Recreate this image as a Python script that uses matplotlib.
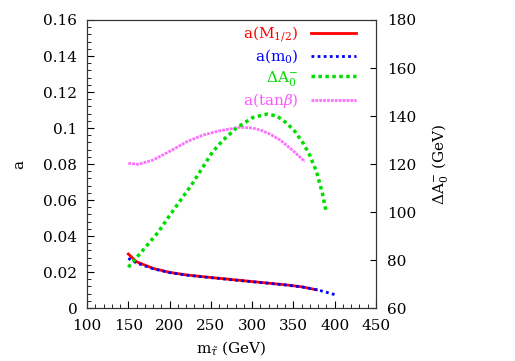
import matplotlib
matplotlib.use("Agg")
import matplotlib.pyplot as plt
from matplotlib.ticker import MultipleLocator, FuncFormatter

plt.rcParams['font.family'] = ['DejaVu Serif']
plt.rcParams['mathtext.fontset'] = 'dejavuserif'

# a(M_1/2)
m_red = [150, 160, 180, 200, 220, 240, 260, 280, 300, 320, 340, 360, 378]
a_red = [0.0300, 0.0257, 0.0220, 0.0198, 0.0184, 0.0174, 0.0165, 0.0156, 0.0147, 0.0138, 0.0129, 0.0118, 0.0101]
# a(m0)
m_blue = [150, 160, 180, 200, 220, 240, 260, 280, 300, 320, 340, 360, 380, 402]
a_blue = [0.0276, 0.0250, 0.0218, 0.0197, 0.0183, 0.0173, 0.0164, 0.0155, 0.0146, 0.0137, 0.0128, 0.0117, 0.0100, 0.0072]
# Delta A0 (right axis, GeV)
m_green = [150, 165, 186, 200, 227, 252, 265, 281, 301, 318, 330, 342, 352, 362, 370, 378, 385, 390]
dA_green = [77.0, 83.0, 91.5, 98.5, 111.5, 125.0, 130.0, 135.0, 139.4, 140.8, 140.0, 137.0, 133.5, 128.6, 123.5, 116.8, 108.0, 99.5]
# a(tan beta)
m_mag = [150, 162, 180, 200, 221, 240, 261, 285, 300, 310, 322, 334, 348, 364]
a_mag = [0.0804, 0.0798, 0.0822, 0.0870, 0.0924, 0.0960, 0.0985, 0.1004, 0.1000, 0.0989, 0.0965, 0.0933, 0.0880, 0.0813]

fig = plt.figure(figsize=(5.15, 3.61), dpi=100)
ax = fig.add_axes([0.169, 0.1468, 0.561, 0.7978])
ax2 = ax.twinx()

l1, = ax.plot(m_red, a_red, color='#ff0000', lw=2.0, label=r'a(M$_{1/2}$)')
l2, = ax.plot(m_blue, a_blue, color='#0000ff', lw=2.0, linestyle=(0, (1, 1.2)), label=r'a(m$_0$)')
l4, = ax.plot(m_mag, a_mag, color='#ff55ff', lw=2.0, linestyle=(0, (1, 0.4)), alpha=0.85, label=r'a(tan$\beta$)')
l3, = ax2.plot(m_green, dA_green, color='#00dd00', lw=2.5, linestyle=(0, (1, 1)), label=r'$\Delta$A$_0^{-}$')

ax.set_xlim(100, 450)
ax.set_ylim(0, 0.16)
ax2.set_ylim(60, 180)

ax.xaxis.set_major_locator(MultipleLocator(50))
ax.xaxis.set_minor_locator(MultipleLocator(10))
ax.yaxis.set_major_locator(MultipleLocator(0.02))
ax.yaxis.set_minor_locator(MultipleLocator(0.004))
ax2.yaxis.set_major_locator(MultipleLocator(20))

ax.yaxis.set_major_formatter(FuncFormatter(lambda v, p: ('%g' % round(v, 3))))

ax.tick_params(axis='both', which='both', direction='in', labelsize=11, top=False, right=False)
ax.tick_params(axis='x', which='major', length=5, pad=8)
ax.tick_params(axis='y', which='major', length=5, pad=7)
ax.tick_params(which='minor', length=3)
ax2.tick_params(axis='y', which='major', direction='in', labelsize=11, length=4, pad=8)

for a_ in (ax, ax2):
    for s in a_.spines.values():
        s.set_color('#333333')

ax.set_xlabel(r'm$_{\tilde{\tau}}$ (GeV)', fontsize=11, labelpad=5)
ax.set_ylabel('a', fontsize=11, labelpad=12)
ax2.set_ylabel(r'$\Delta$A$_0^{-}$ (GeV)', fontsize=11, labelpad=10)

leg = ax.legend(handles=[l1, l2, l3, l4], loc='upper right', frameon=False,
                markerfirst=False, fontsize=11, labelcolor='linecolor',
                handlelength=2.9, handletextpad=0.85, borderaxespad=0, borderpad=0,
                labelspacing=0.22, bbox_to_anchor=(0.93, 0.985))
leg._legend_box.align = 'right'

fig.savefig('out.png', dpi=100)
